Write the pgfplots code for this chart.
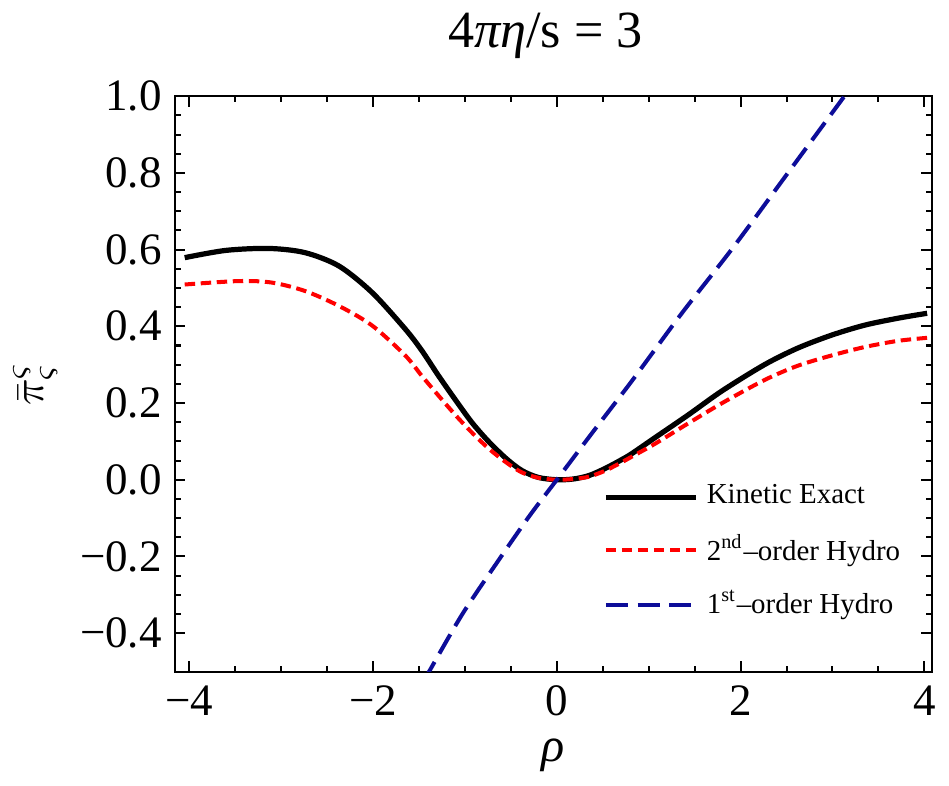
\documentclass[border=0pt]{standalone}
\usepackage{pgfplots}
\pgfplotsset{compat=1.18}
\usepackage{fontspec}
\setmainfont{Liberation Serif}
\newfontfamily\tnr{Liberation Serif}
\definecolor{navy}{rgb}{0.05,0.05,0.6}
\begin{document}
\begin{tikzpicture}
\begin{axis}[
  scale only axis,
  width=188.5pt, height=143.25pt,
  xmin=-4.16, xmax=4.08,
  ymin=-0.5, ymax=1.0,
  axis line style={line width=0.5pt},
  tick style={black, line width=0.5pt},
  tick align=inside,
  major tick length=2.6pt,
  minor tick length=1.5pt,
  xtick={-4,-2,0,2,4},
  xticklabels={−4,−2,0,2,4},
  minor x tick num=3,
  ytick={-0.4,-0.2,0,0.2,0.4,0.6,0.8,1.0},
  yticklabels={−0.4,−0.2,0.0,0.2,0.4,0.6,0.8,1.0},
  minor y tick num=3,
  ticklabel style={font=\tnr\fontsize{11.2}{13}\selectfont},
  yticklabel style={xshift=0.3pt},
  title={\tnr 4\textit{πη}/s = 3},
  title style={at={(axis description cs:0.49,1)}, anchor=base, yshift=6pt, font=\tnr\fontsize{13}{15}\selectfont},
  xlabel={\tnr\itshape ρ},
  xlabel style={at={(axis description cs:0.5,0)}, anchor=base, yshift=-22.5pt, font=\tnr\fontsize{12}{14}\selectfont},
  ylabel={$\bar{\pi}^{\varsigma}_{\varsigma}$},
  ylabel style={at={(axis description cs:-0.184,0.5)}, anchor=center, rotate=0, font=\fontsize{11}{13}\selectfont},
  legend cell align=left,
  legend style={draw=none, fill=none, at={(axis description cs:0.565,0.34)}, anchor=north west,
    font=\tnr\fontsize{7.2}{8.5}\selectfont, row sep=2pt, inner sep=0pt},
  legend image code/.code={\draw[#1] (0pt,0pt) -- (22.5pt,0pt);},
]
\addplot[black, line width=1.3pt, smooth] coordinates {
(-4.05,0.579) (-3.6,0.598) (-3.13,0.603) (-2.74,0.592) (-2.37,0.557)
(-2.01,0.488) (-1.65,0.393) (-1.47,0.337) (-1.29,0.272) (-1.10,0.207)
(-0.92,0.148) (-0.74,0.099) (-0.55,0.055) (-0.38,0.024) (-0.2,0.006)
(0,0) (0.18,0.002) (0.35,0.011) (0.53,0.030) (0.71,0.053) (0.815,0.068)
(1.07,0.110) (1.43,0.169) (1.80,0.232) (2.26,0.300) (2.62,0.343)
(2.99,0.377) (3.35,0.403) (3.71,0.421) (4.03,0.434)
};
\addlegendentry{Kinetic Exact}
\addplot[red, line width=1pt, dash pattern=on 2.6pt off 1.4pt, smooth] coordinates {
(-4.05,0.509) (-3.46,0.518) (-3.10,0.514) (-2.74,0.492) (-2.37,0.453)
(-2.01,0.402) (-1.65,0.324) (-1.47,0.271) (-1.29,0.220) (-1.105,0.169)
(-0.92,0.122) (-0.74,0.081) (-0.55,0.045) (-0.38,0.019) (-0.2,0.005)
(0,0) (0.18,0.002) (0.35,0.008) (0.53,0.024) (0.71,0.046) (0.815,0.060)
(1.07,0.094) (1.43,0.147) (1.80,0.200) (2.26,0.260) (2.62,0.297)
(2.99,0.324) (3.35,0.346) (3.71,0.362) (4.03,0.370)
};
\addlegendentry{2\textsuperscript{nd}–order Hydro}
\addplot[navy, line width=1pt, dash pattern=on 5.5pt off 2.4pt, smooth] coordinates {
(-1.45,-0.525) (-1.39,-0.5) (-1.03,-0.351) (-0.66,-0.219) (-0.30,-0.095)
(0,0) (0.4,0.127) (0.815,0.257) (1.36,0.434) (1.92,0.606) (2.5,0.795)
(3.13,1.0) (3.2,1.022)
};
\addlegendentry{1\textsuperscript{st}–order Hydro}
\end{axis}
\end{tikzpicture}
\end{document}
